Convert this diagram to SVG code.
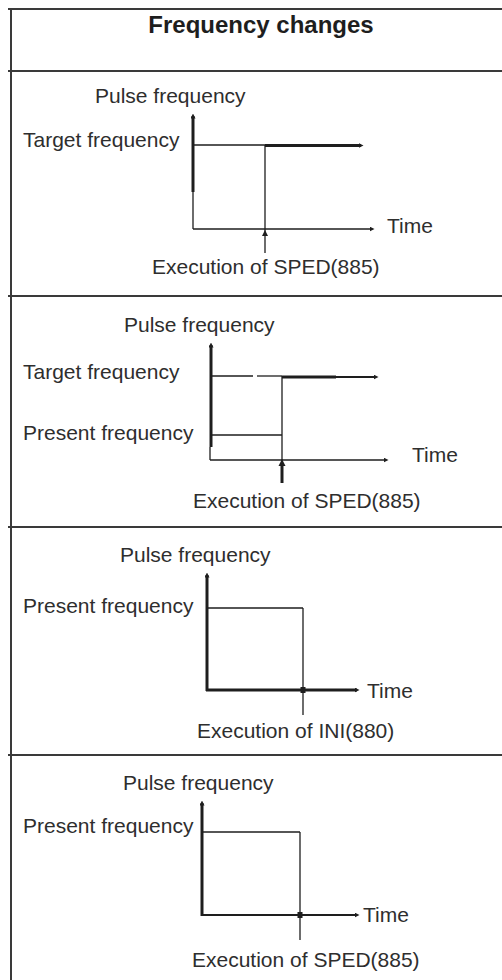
<svg xmlns="http://www.w3.org/2000/svg" width="502" height="980" viewBox="0 0 502 980">
  <style>
    .frame { stroke: #3a3a3a; stroke-width: 2; fill: none; }
    .ln { stroke: #1e1e1e; stroke-width: 1.3; fill: none; }
    .thick { stroke: #1e1e1e; stroke-width: 3; fill: none; }
    .mid { stroke: #1e1e1e; stroke-width: 2; fill: none; }
    .head { fill: #1e1e1e; }
    .lbl { font-family: "Liberation Sans", Arial, sans-serif; font-size: 21px; fill: #2e2e2e; }
    .title { font-family: "Liberation Sans", Arial, sans-serif; font-size: 24px; font-weight: bold; fill: #1e1e1e; text-anchor: middle; }
  </style>
  <defs>
    <marker id="dot" viewBox="0 0 6 6" refX="3" refY="3" markerWidth="5" markerHeight="5" markerUnits="userSpaceOnUse" orient="auto">
      <path d="M0,0 L6,3 L0,6 Z" fill="#1e1e1e"/>
    </marker>
  </defs>

  <!-- table frame -->
  <g id="frame">
    <line class="frame" x1="11" y1="8" x2="11" y2="980"/>
    <line class="frame" x1="8" y1="9" x2="502" y2="9"/>
    <line class="frame" x1="8" y1="71" x2="502" y2="71"/>
    <line class="frame" x1="8" y1="296" x2="502" y2="296"/>
    <line class="frame" x1="8" y1="527" x2="502" y2="527"/>
    <line class="frame" x1="8" y1="755" x2="502" y2="755"/>
  </g>

  <g id="title">
    <text class="title" x="261" y="33">Frequency changes</text>
  </g>

  <!-- panel 1: target frequency from stop -->
  <g id="panel1">
    <text class="lbl" x="95" y="103">Pulse frequency</text>
    <text class="lbl" x="23" y="147">Target frequency</text>
    <text class="lbl" x="387" y="233">Time</text>
    <text class="lbl" x="152" y="274">Execution of SPED(885)</text>
    <g class="connectors">
      <line class="thick" x1="193" y1="192" x2="193" y2="116" marker-end="url(#dot)"/>
      <line class="ln" x1="193" y1="192" x2="193" y2="229"/>
      <line class="ln" x1="193" y1="229" x2="372" y2="229" marker-end="url(#dot)"/>
      <line class="ln" x1="193" y1="145" x2="265" y2="145"/>
      <line class="thick" x1="265" y1="145.5" x2="361" y2="145.5" marker-end="url(#dot)"/>
      <line class="ln" x1="265" y1="145" x2="265" y2="253"/>
      <path class="head" d="M265,230 L268,236 L262,236 Z"/>
    </g>
  </g>

  <!-- panel 2: present to target frequency -->
  <g id="panel2">
    <text class="lbl" x="124" y="332">Pulse frequency</text>
    <text class="lbl" x="23" y="379">Target frequency</text>
    <text class="lbl" x="23" y="440">Present frequency</text>
    <text class="lbl" x="412" y="462">Time</text>
    <text class="lbl" x="193" y="508">Execution of SPED(885)</text>
    <g class="connectors">
      <line class="thick" x1="211" y1="447" x2="211" y2="345" marker-end="url(#dot)"/>
      <line class="ln" x1="210" y1="447" x2="210" y2="460"/>
      <line class="ln" x1="210" y1="460" x2="386" y2="460" marker-end="url(#dot)"/>
      <line class="ln" x1="210" y1="376" x2="253" y2="376"/>
      <line class="ln" x1="257" y1="376" x2="282" y2="376"/>
      <line class="thick" x1="282" y1="377" x2="336" y2="377"/>
      <line class="mid" x1="336" y1="377" x2="376" y2="377" marker-end="url(#dot)"/>
      <line class="ln" x1="210" y1="435" x2="282" y2="435"/>
      <line class="ln" x1="282" y1="376" x2="282" y2="462"/>
      <line class="thick" x1="282" y1="483" x2="282" y2="465"/>
      <path class="head" d="M282,459 L285.5,466 L278.5,466 Z"/>
    </g>
  </g>

  <!-- panel 3: stop by INI(880) -->
  <g id="panel3">
    <text class="lbl" x="120" y="562">Pulse frequency</text>
    <text class="lbl" x="23" y="613">Present frequency</text>
    <text class="lbl" x="367" y="698">Time</text>
    <text class="lbl" x="197" y="738">Execution of INI(880)</text>
    <g class="connectors">
      <line class="thick" x1="207" y1="691" x2="207" y2="575" marker-end="url(#dot)"/>
      <line class="thick" x1="206" y1="690" x2="357" y2="690" marker-end="url(#dot)"/>
      <line class="ln" x1="207" y1="608" x2="303" y2="608"/>
      <line class="ln" x1="303" y1="608" x2="303" y2="715"/>
      <rect x="300.5" y="687" width="5" height="6" fill="#1e1e1e"/>
    </g>
  </g>

  <!-- panel 4: stop by SPED(885) -->
  <g id="panel4">
    <text class="lbl" x="123" y="790">Pulse frequency</text>
    <text class="lbl" x="23" y="833">Present frequency</text>
    <text class="lbl" x="363" y="922">Time</text>
    <text class="lbl" x="192" y="967">Execution of SPED(885)</text>
    <g class="connectors">
      <line class="thick" x1="202" y1="916" x2="202" y2="803" marker-end="url(#dot)"/>
      <line class="mid" x1="202" y1="915" x2="357" y2="915" marker-end="url(#dot)"/>
      <line class="ln" x1="202" y1="832" x2="300" y2="832"/>
      <line class="ln" x1="300" y1="832" x2="300" y2="940"/>
      <rect x="297.5" y="912" width="5" height="6" fill="#1e1e1e"/>
    </g>
  </g>
</svg>
